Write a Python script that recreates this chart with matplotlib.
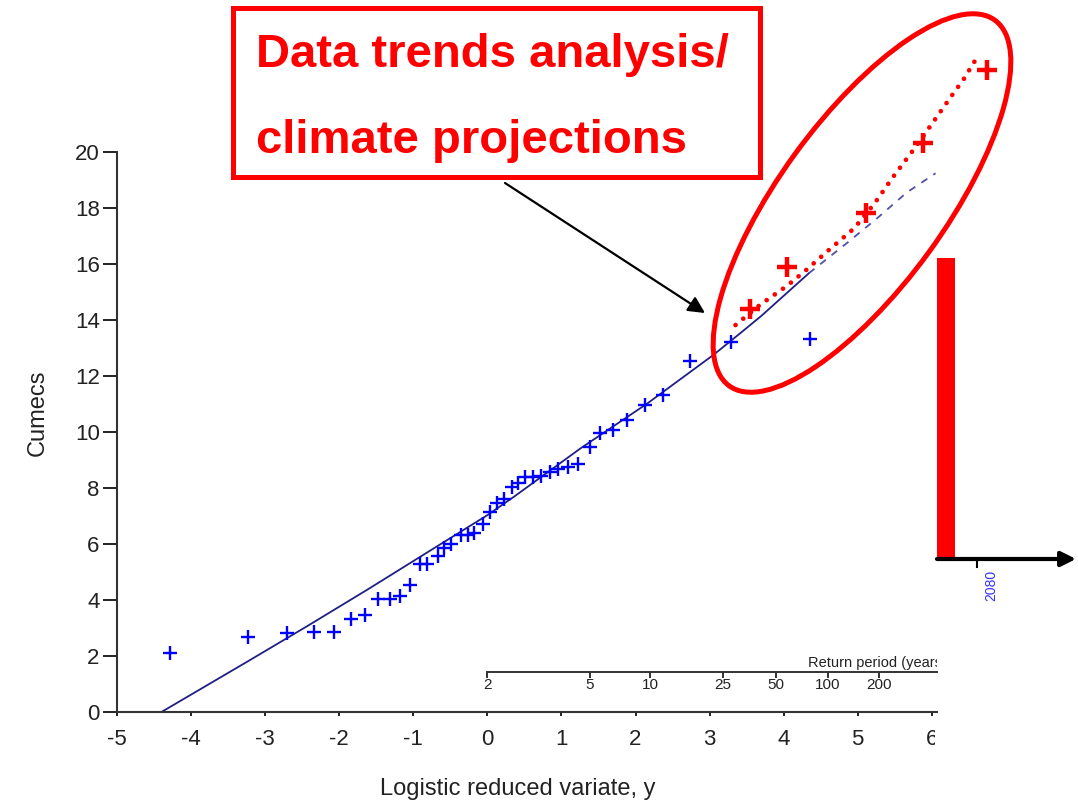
import numpy as np
import matplotlib
matplotlib.use("Agg")
import matplotlib.pyplot as plt
from matplotlib.patches import Ellipse, Rectangle

plt.rcParams['font.family'] = ['Liberation Sans', 'DejaVu Sans']
plt.rcParams['axes.unicode_minus'] = False

obs_y = [-4.29, -3.23, -2.70, -2.34, -2.07, -1.84, -1.65, -1.48, -1.32, -1.18,
         -1.04, -0.91, -0.81, -0.67, -0.59, -0.49, -0.36, -0.26, -0.18, -0.06,
         0.03, 0.13, 0.22, 0.33, 0.41, 0.51, 0.62, 0.72, 0.84, 0.96,
         1.09, 1.23, 1.38, 1.52, 1.70, 1.89, 2.13, 2.37, 2.74, 3.29, 4.35]
obs_q = [2.12, 2.68, 2.81, 2.85, 2.85, 3.33, 3.46, 4.04, 4.04, 4.14,
         4.55, 5.28, 5.30, 5.58, 5.85, 5.99, 6.31, 6.31, 6.38, 6.70,
         7.13, 7.48, 7.61, 8.03, 8.17, 8.40, 8.40, 8.43, 8.58, 8.68,
         8.74, 8.87, 9.48, 9.98, 10.07, 10.44, 10.96, 11.31, 12.54, 13.23, 13.31]

# fitted growth curve, solid inside the record, dashed beyond it
fit_y = [-4.40, -3.24, -2.43, -1.62, -0.72, 0.0, 0.36, 1.26, 2.16, 3.05, 3.41, 3.70, 4.34]
fit_q = [0.0, 1.80, 3.07, 4.37, 5.85, 7.03, 7.69, 9.42, 11.02, 12.75, 13.52, 14.15, 15.67]
ext_y = [4.34, 4.85, 5.26, 5.66, 6.05]
ext_q = [15.67, 16.74, 17.63, 18.55, 19.24]

# climate-projected curve and points
proj_y = [3.35, 3.68, 4.04, 4.28, 4.61, 4.95, 5.22, 5.48, 5.75, 6.00, 6.26, 6.43, 6.59]
proj_q = [13.82, 14.54, 15.21, 15.73, 16.50, 17.27, 18.14, 19.12, 20.07, 21.00, 21.98, 22.60, 23.29]
proj_pts_y = [3.55, 4.04, 5.11, 5.88, 6.75]
proj_pts_q = [14.38, 15.90, 17.81, 20.33, 22.93]

return_periods = [2, 5, 10, 25, 50, 100, 200]

W, H = 1078, 805
fig = plt.figure(figsize=(W / 100, H / 100), dpi=100)
ax = fig.add_axes([117 / W, 1 - 712 / H, 820 / W, 560 / H])
ink = "#222222"

ax.plot(fit_y, fit_q, "-", color="#1f1f85", lw=1.3, zorder=2)
ax.plot(ext_y, ext_q, color="#5050aa", lw=1.3, ls=(0, (4, 4)), zorder=2)
ax.plot(obs_y, obs_q, "+", color="#0000ff", ms=9.5, mew=1.7, zorder=3)

ax.plot(proj_y, proj_q, color="#ff0000", lw=3.4, ls=(0, (0.01, 2.1)),
        dash_capstyle="round", clip_on=False, zorder=4)
ax.plot(proj_pts_y, proj_pts_q, "+", color="#ff0000", ms=14, mew=3.2,
        clip_on=False, zorder=4)

ax.set_xlim(-5, 6.07)
ax.set_ylim(0, 20)
ax.set_xticks(range(-5, 7))
ax.set_yticks(range(0, 21, 2))
for s in ("top", "right"):
    ax.spines[s].set_visible(False)
for s in ("left", "bottom"):
    ax.spines[s].set_linewidth(1.5)
    ax.spines[s].set_color("#333333")
ax.tick_params(axis="y", length=10, width=1.4, pad=2.5, labelsize=16,
               colors=ink)
ax.tick_params(axis="x", length=3, width=1.4, pad=9, labelsize=16, colors=ink)
ax.set_xlabel("Logistic reduced variate, y", fontsize=17, color=ink)
ax.xaxis.set_label_coords(0.489, -0.118)
ax.set_ylabel("Cumecs", fontsize=17, color=ink)
ax.yaxis.set_label_coords(-0.083, 0.535)

# return period scale, T = 1 + exp(y) for the logistic distribution
sec = ax.secondary_xaxis(40 / 560, functions=(
    lambda v: np.exp(v) + 1, lambda T: np.log(np.maximum(T - 1, 1e-12))))
sec.set_xticks(return_periods)
sec.set_xticklabels([str(t) for t in return_periods])
sec.tick_params(length=4, width=1.3, pad=0.5, labelsize=11, colors=ink)
sec.spines["bottom"].set_bounds(2, np.exp(6.07) + 1)
sec.spines["bottom"].set_linewidth(1.4)
sec.spines["bottom"].set_color("#333333")
ax.text(4.33, 1.6, "Return period (years)", fontsize=10.5, color=ink,
        clip_on=True)

# slide overlay, in pixel units
ov = fig.add_axes([0, 0, 1, 1], zorder=5)
ov.set_xlim(0, W)
ov.set_ylim(H, 0)
ov.axis("off")

# the scanned chart is cut off on the right
ov.add_patch(Rectangle((935, 722), 30, 45, fc="white", ec="none"))

ov.add_patch(Rectangle((233, 8), 527, 169, fill=False, ec="#ff0000", lw=3.6))
ov.text(256, 67, "Data trends analysis/", fontsize=34, weight="bold",
        color="#ff0000", va="baseline")
ov.text(256, 153, "climate projections", fontsize=34, weight="bold",
        color="#ff0000", va="baseline")
ov.annotate("", xy=(705, 313), xytext=(505, 183),
            arrowprops=dict(arrowstyle="-|>", color="black", lw=1.6,
                            mutation_scale=25, shrinkA=0, shrinkB=0))
ov.add_patch(Ellipse((862, 203), 452, 166, angle=-54, fill=False,
                     ec="#ff0000", lw=3.6))

ov.add_patch(Rectangle((937, 258), 18, 299, fc="#ff0000", ec="none"))
ov.annotate("", xy=(1076, 559), xytext=(937, 559),
            arrowprops=dict(arrowstyle="-|>", color="black", lw=3,
                            mutation_scale=22, shrinkA=0, shrinkB=0))
ov.plot([977, 977], [560, 567], color="black", lw=1.5)
ov.text(991, 570, "2080", rotation=90, ha="center", va="top",
        fontsize=10, color="#3333ff")

fig.savefig("out.png", dpi=100)
